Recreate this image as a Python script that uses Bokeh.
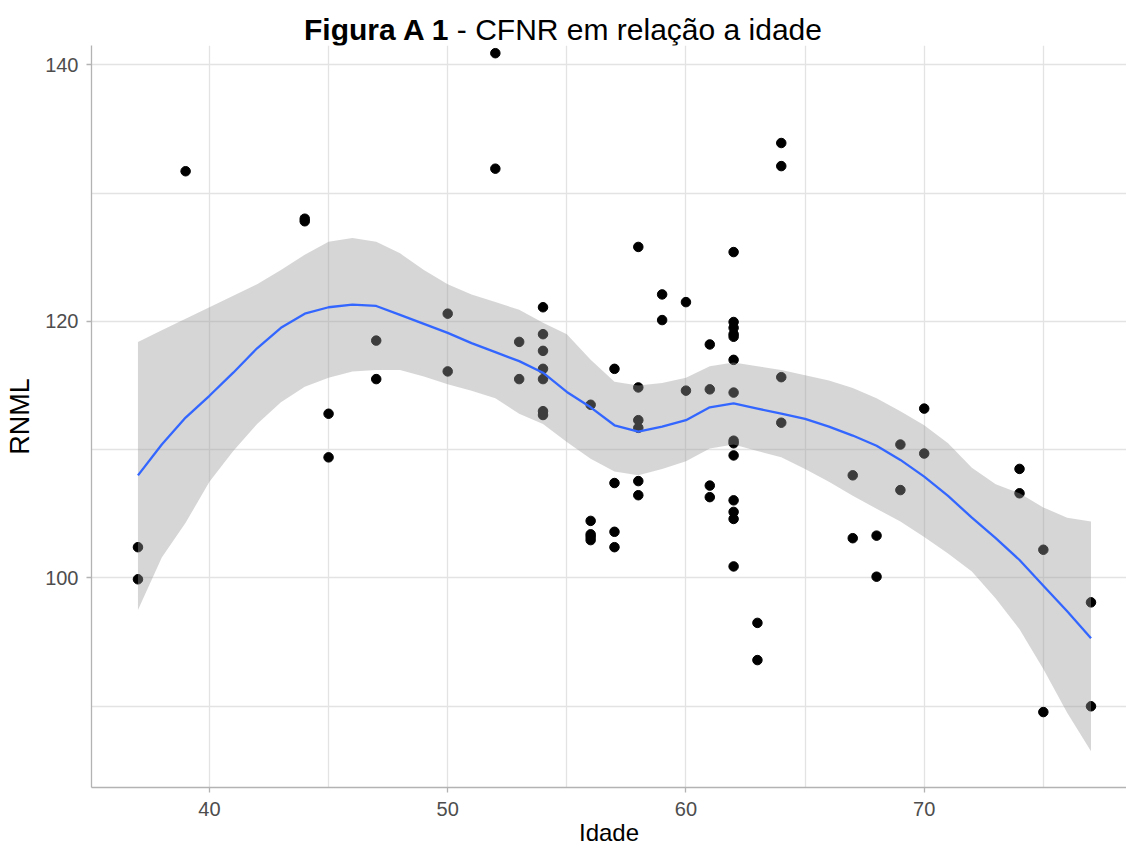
from bokeh.plotting import figure
from bokeh.models import Range1d, FixedTicker, Div
from bokeh.layouts import column
from bokeh.embed import file_html
from bokeh.resources import INLINE

# ---- scatter data (Idade, RNML) ----
idade = [37, 37, 39, 44, 44, 45, 45, 47, 47, 50, 50, 52, 52, 53, 53,
         54, 54, 54, 54, 54, 54, 54,
         56, 56, 56, 56, 56,
         57, 57, 57, 57,
         58, 58, 58, 58, 58, 58,
         59, 59, 60, 60,
         61, 61, 61, 61,
         62, 62, 62, 62, 62, 62, 62, 62, 62, 62, 62, 62, 62, 62,
         63, 63, 64, 64, 64, 64,
         67, 67, 68, 68, 69, 69, 70, 70, 74, 74, 75, 75, 77, 77]
rnml = [102.4, 99.9, 131.7, 128.0, 127.8, 112.8, 109.4, 118.5, 115.5, 120.6, 116.1, 140.9, 131.9, 118.4, 115.5,
        121.1, 119.0, 117.7, 116.3, 115.5, 113.0, 112.7,
        113.5, 104.45, 103.4, 103.2, 102.95,
        116.3, 107.4, 103.6, 102.4,
        125.8, 114.85, 112.3, 111.7, 107.55, 106.45,
        122.1, 120.1, 121.5, 114.6,
        118.2, 114.7, 107.2, 106.3,
        125.4, 119.95, 119.5, 119.0, 118.8, 117.0, 114.45, 110.7, 110.5, 109.55, 106.05, 105.15, 104.6, 100.9,
        96.5, 93.6, 133.9, 132.1, 115.65, 112.1,
        108.0, 103.1, 103.3, 100.1, 110.4, 106.85, 113.2, 109.7, 108.5, 106.6, 102.2, 89.55, 98.1, 90.0]

# ---- loess smooth with confidence band ----
smooth_x = list(range(37, 78))
smooth_fit = [108.0, 110.4, 112.5, 114.2, 116.0, 117.9, 119.5, 120.6, 121.1, 121.3,
              121.2, 120.5, 119.8, 119.1, 118.3, 117.6, 116.9, 116.0, 114.5, 113.3,
              111.9, 111.4, 111.8, 112.3, 113.3, 113.6, 113.2, 112.8, 112.4, 111.8,
              111.1, 110.3, 109.2, 107.9, 106.4, 104.7, 103.1, 101.4, 99.4, 97.4, 95.3]
smooth_lower = [97.5, 101.6, 104.3, 107.5, 109.9, 112.0, 113.7, 114.9, 115.6, 116.1,
                116.2, 116.2, 115.7, 115.1, 114.6, 114.0, 112.8, 112.0, 110.6, 109.3,
                108.3, 108.0, 108.5, 109.1, 110.1, 110.4, 109.9, 109.4, 108.5, 107.5,
                106.4, 105.4, 104.4, 103.2, 101.9, 100.5, 98.4, 96.0, 92.9, 89.5, 86.5]
smooth_upper = [118.4, 119.3, 120.2, 121.1, 122.0, 122.9, 124.0, 125.2, 126.2, 126.5,
                126.2, 125.3, 124.0, 122.9, 122.1, 121.5, 120.9, 119.9, 119.0, 117.0,
                115.3, 115.0, 115.2, 115.6, 116.5, 116.8, 116.5, 116.2, 115.8, 115.4,
                114.8, 114.0, 113.0, 111.9, 110.5, 108.6, 107.3, 106.6, 105.5, 104.7, 104.4]

x_ticks = [40, 50, 60, 70]
x_minor = [35, 45, 55, 65, 75]
y_ticks = [100, 120, 140]
y_minor = [90, 110, 130]

FONT = "Liberation Sans"

p = figure(width=1126, height=803, output_backend="svg", toolbar_location=None,
           x_range=Range1d(35.05, 78.49), y_range=Range1d(83.67, 141.5),
           min_border_left=91, min_border_top=0, min_border_right=0, min_border_bottom=0)
p.outline_line_color = None
p.background_fill_color = "white"
p.border_fill_color = "white"

p.xaxis.ticker = FixedTicker(ticks=x_ticks, minor_ticks=x_minor)
p.yaxis.ticker = FixedTicker(ticks=y_ticks, minor_ticks=y_minor)

for g in (p.xgrid, p.ygrid):
    g.grid_line_color = "#e3e3e3"
    g.grid_line_width = 1.3
    g.minor_grid_line_color = "#e3e3e3"
    g.minor_grid_line_width = 1.3

for ax in (p.xaxis, p.yaxis):
    ax.axis_line_color = "#b3b3b3"
    ax.axis_line_width = 1.3
    ax.major_tick_line_color = "#b3b3b3"
    ax.major_tick_line_width = 1.3
    ax.major_tick_out = 5
    ax.major_tick_in = 0
    ax.minor_tick_out = 0
    ax.minor_tick_in = 0
    ax.major_label_text_font = FONT
    ax.major_label_text_font_size = "20px"
    ax.major_label_text_color = "#4d4d4d"
    ax.axis_label_text_font = FONT
    ax.axis_label_text_font_style = "normal"
    ax.axis_label_text_color = "black"

p.xaxis.axis_label = "Idade"
p.yaxis.axis_label = "RNML"
p.xaxis.axis_label_text_font_size = "24px"
p.yaxis.axis_label_text_font_size = "27px"
p.xaxis.major_label_standoff = 9
p.xaxis.axis_label_standoff = 0
p.yaxis.major_label_standoff = 8
p.yaxis.axis_label_standoff = 7

p.scatter(idade, rnml, size=9.5, color="black")
p.varea(x=smooth_x, y1=smooth_lower, y2=smooth_upper, fill_color="#999999", fill_alpha=0.4)
p.line(smooth_x, smooth_fit, line_color="#3366FF", line_width=2.3)

title = Div(
    text=('<div style="font-family:\'Liberation Sans\',Arial,sans-serif;font-size:30px;'
          'line-height:30px;padding-top:15px;padding-left:7px;text-align:center;width:1119px;color:black;">'
          '<b>Figura A 1</b> - CFNR em relação a idade</div>'),
    width=1126, height=45, margin=0)

layout = column(title, p, spacing=0)
open("out.html", "w").write(file_html(layout, INLINE))
